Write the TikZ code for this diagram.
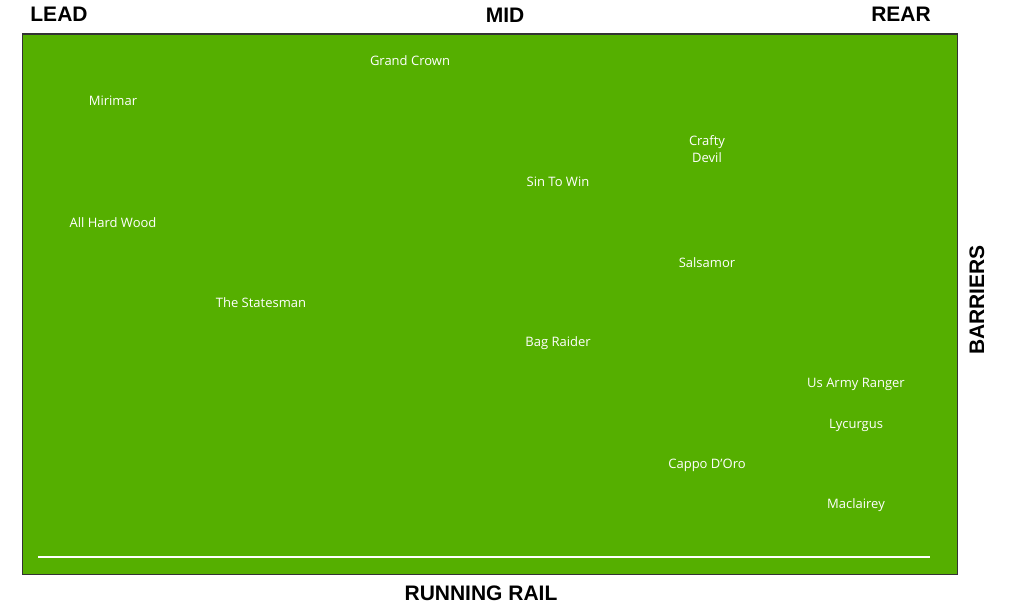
\documentclass[tikz,border=0pt]{standalone}
\usepackage{fontspec}
\setmainfont{Open Sans}
\newfontfamily\headfont{Liberation Sans}
\usepackage{tikz}
\definecolor{turf}{RGB}{85,175,0}

\begin{document}
\begin{tikzpicture}[x=1pt,y=-1pt,
  horse/.style={text=white,font=\fontsize{13}{17}\selectfont,align=center,inner sep=0pt},
  heading/.style={text=black,font=\headfont\bfseries\fontsize{21}{24}\selectfont,inner sep=0pt}]
\useasboundingbox (0,0) rectangle (1024,610);
\node[draw=black!80,line width=1.5pt,fill=turf,minimum width=935pt,minimum height=540pt,inner sep=0pt,anchor=north west] (track) at (21.5,33.5) {};
\coordinate (rail_w) at (38,557);
\coordinate (rail_e) at (930,557);
\draw[white,line width=1.2pt] (rail_w)--(rail_e);
% headings
\node[heading] (lead) at (59,14) {LEAD};
\node[heading] (mid) at (505,15) {MID};
\node[heading] (rear) at (901,14) {REAR};
\node[heading,rotate=90] (barriers) at (977,300) {BARRIERS};
\node[heading] (rail) at (481,593) {RUNNING RAIL};
% runners
\node[horse] (grand_crown) at (410,60.5) {Grand Crown};
\node[horse] (mirimar) at (113,100.5) {Mirimar};
\node[horse] (crafty_devil) at (707,149.5) {Crafty\\Devil};
\node[horse] (sin_to_win) at (558,181.5) {Sin To Win};
\node[horse] (all_hard_wood) at (113,222.5) {All Hard Wood};
\node[horse] (salsamor) at (707,262.5) {Salsamor};
\node[horse] (statesman) at (261,302.5) {The Statesman};
\node[horse] (bag_raider) at (558,343.5) {Bag Raider};
\node[horse] (army_ranger) at (856,384.5) {Us Army Ranger};
\node[horse] (lycurgus) at (856,425.5) {Lycurgus};
\node[horse] (cappo) at (707,465.5) {Cappo D'Oro};
\node[horse] (maclairey) at (856,505.5) {Maclairey};
\end{tikzpicture}
\end{document}
